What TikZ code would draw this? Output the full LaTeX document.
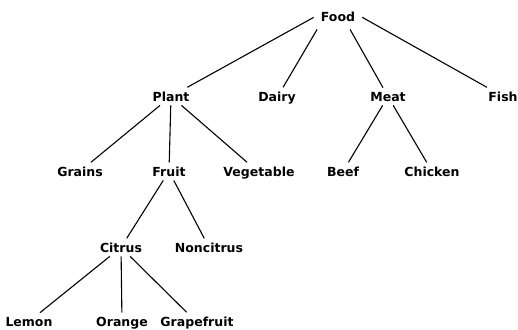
\documentclass[tikz,border=0pt]{standalone}
\usepackage{fontspec}
\setmainfont{DejaVu Sans}
\usetikzlibrary{positioning}

\tikzset{
  item/.style={font=\bfseries\fontsize{12.5}{14}\selectfont, inner sep=4pt, anchor=base},
  link/.style={line width=1.1pt}
}

\begin{document}
\begin{tikzpicture}[x=1pt, y=-1pt]
    \useasboundingbox (0,0) rectangle (518,329);
    % level 0 and 1
    \node[item, inner xsep=7pt, inner ysep=7pt] (food) at (338,22) {Food};
    \node[item] (plant) at (171,101) {Plant};
    \node[item] (dairy) at (277,101) {Dairy};
    \node[item] (meat)  at (388,101) {Meat};
    \node[item] (fish)  at (503,101) {Fish};
    % level 2
    \node[item] (grains)    at (80,176)  {Grains};
    \node[item] (fruit)     at (169,176) {Fruit};
    \node[item] (vegetable) at (259,176) {Vegetable};
    \node[item] (beef)      at (343,176) {Beef};
    \node[item] (chicken)   at (432,176) {Chicken};
    % level 3 and 4
    \node[item] (citrus)     at (121,252) {Citrus};
    \node[item] (noncitrus)  at (209,252) {Noncitrus};
    \node[item] (lemon)      at (29,326)  {Lemon};
    \node[item] (orange)     at (122,326) {Orange};
    \node[item] (grapefruit) at (197,326) {Grapefruit};

    \draw[link] (food.west) -- (plant);
    \draw[link] (food.210) -- (dairy);
    \draw[link] (food.315) -- (meat);
    \draw[link] (food.east) -- (fish);
    \foreach \a/\b in {plant/grains, plant/fruit, plant/vegetable,
                       meat/beef, meat/chicken,
                       fruit/citrus, fruit/noncitrus,
                       citrus/lemon, citrus/orange, citrus/grapefruit}
      \draw[link] (\a) -- (\b);
  \end{tikzpicture}
\end{document}
